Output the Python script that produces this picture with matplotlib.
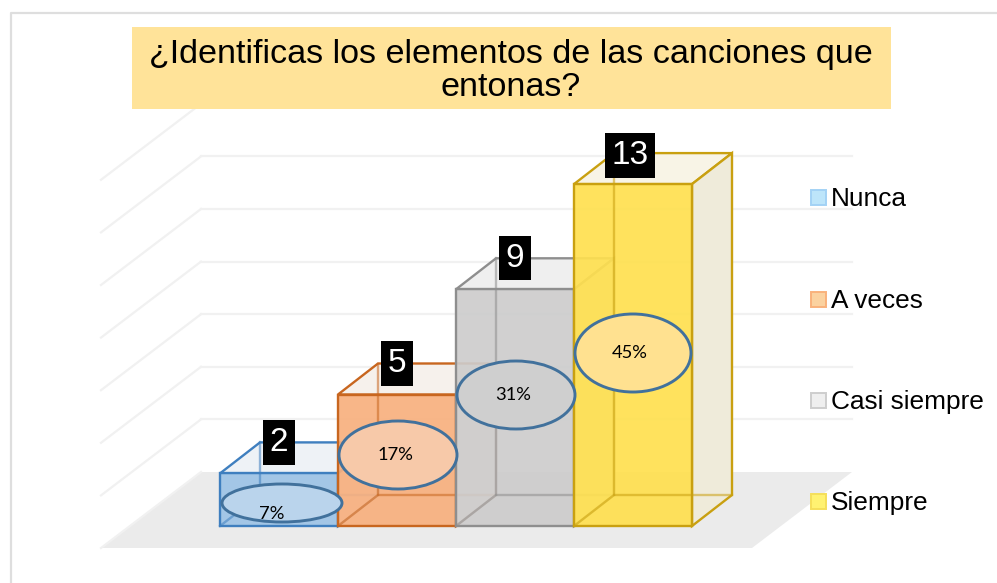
import matplotlib
matplotlib.use("Agg")
import matplotlib.pyplot as plt
from matplotlib.patches import Polygon, Ellipse, Rectangle

categories = ["Nunca", "A veces", "Casi siempre", "Siempre"]
counts = [2, 5, 9, 13]
percents = ["7%", "17%", "31%", "45%"]
title = "¿Identificas los elementos de las canciones que\nentonas?"

W, H = 997, 583
BAR_PX, UNIT_PX = 118.0, 26.3
X0_PX, Y0_PX = 220.0, 526.0

def X(px): return (px - X0_PX) / BAR_PX
def Y(py): return (Y0_PX - py) / UNIT_PX

fig = plt.figure(figsize=(W / 100, H / 100), dpi=100, facecolor="white")
ax = fig.add_axes([0, 0, 1, 1])
ax.set_xlim(X(0), X(W))
ax.set_ylim(Y(H), Y(0))
ax.axis("off")

SANS = "Liberation Sans"
DX, DY = 40 / BAR_PX, 31 / UNIT_PX

# outer chart frame
ax.plot([X(10.5), X(10.5), X(W)], [Y(H), Y(12.5), Y(12.5)], color="#DEDEDE", lw=1.6, zorder=1)

# floor and walls
FDX, FDY = 100 / BAR_PX, 76 / UNIT_PX
fl, fr, ff = X(101), X(752), Y(548)
ax.add_patch(Polygon([(fl, ff), (fr, ff), (fr + FDX, ff + FDY), (fl + FDX, ff + FDY)],
                     fc="#EBEBEB", ec="none", zorder=1))
grid_vals = [ff + FDY + 2 * k for k in range(0, 8)]
for g in grid_vals:
    ax.plot([fl, fl + FDX], [g - FDY, g], color="#F1F1F1", lw=1.6, zorder=1.2)
    if g != grid_vals[0]:
        ax.plot([fl + FDX, fr + FDX], [g, g], color="#F1F1F1", lw=1.6, zorder=1.2)

# bars
front = ["#9DC3E6", "#F8B07E", "#CDCCCC", "#FFE04F"]
top = ["#EEF2F6", "#F6F1EC", "#EFEFEF", "#F8F4E6"]
side = ["#E4EAF0", "#F3E5DA", "#E3E3E3", "#EFEBDA"]
edge = ["#3F7FBF", "#C8661F", "#8E8E8E", "#C9A010"]
ell_fill = ["#BAD4EC", "#F7C9A9", "#CFCFCF", "#FFE190"]
ell_w = [120, 118, 118, 116]
ell_h = [38, 68, 68, 78]
ell_cy = [503, 455, 395, 353]
ell_cx = [282, 398, 516, 633]
lw = 1.7

for i, v in enumerate(counts):
    l, r = float(i), i + 1.0
    z = 3 + i
    e = edge[i]
    # back faces
    ax.add_patch(Polygon([(l, v), (r, v), (r + DX, v + DY), (l + DX, v + DY)], fc=top[i], ec=e, lw=lw, zorder=z))
    ax.add_patch(Polygon([(r, 0), (r + DX, DY), (r + DX, v + DY), (r, v)], fc=side[i], ec=e, lw=lw, zorder=z))
    ax.add_patch(Polygon([(l, 0), (r, 0), (r, v), (l, v)], fc=front[i], ec="none", alpha=0.92, zorder=z + .1))
    # hidden edges seen through the glass
    ax.plot([l + DX, l + DX, r + DX], [v + DY, DY, DY], color=e, lw=lw, alpha=.55, zorder=z + .2)
    ax.plot([l, l + DX], [0, DY], color=e, lw=lw, alpha=.55, zorder=z + .2)
    ax.add_patch(Rectangle((l, 0), 1, v, fc="none", ec=e, lw=lw, zorder=z + .3))

for i, v in enumerate(counts):
    lx = X(-3) - X(0) if v >= 10 else 0
    ly = Y(2.5) - Y(0) if v >= 10 else 0
    ax.text(i + .5 + lx, v + DY + ly, str(v), color="white", family=SANS, fontsize=24, ha="center", va="center", zorder=20,
            bbox=dict(fc="black", ec="none", boxstyle="square,pad=0.2"))
    ax.add_patch(Ellipse((X(ell_cx[i]), Y(ell_cy[i])), ell_w[i] / BAR_PX, ell_h[i] / UNIT_PX,
                         fc=ell_fill[i], ec="#41719C", lw=2.1, zorder=21))
    dy = 11 if i == 0 else 0
    dx = -10 if i == 0 else -3
    ax.text(X(ell_cx[i] + dx), Y(ell_cy[i] + dy), percents[i], family="Lato", fontsize=13.2,
            ha="center", va="center", color="black", zorder=22)

# title
ax.add_patch(Rectangle((X(132), Y(109)), X(891) - X(132), Y(27) - Y(109), fc="#FFE399", ec="none", zorder=30))
ax.text(X(511), Y(71), title, family=SANS, fontsize=24.6, ha="center", va="center",
        linespacing=1.12, color="black", zorder=31)

# legend
leg_y = [197.5, 299.5, 400.5, 501.5]
leg_fill = ["#BDE5FA", "#FBD2A0", "#EFEFEF", "#FFF271"]
leg_edge = ["#A3D2F5", "#F9B27C", "#CECECE", "#F5DF5A"]
for name, y, f, e in zip(categories, leg_y, leg_fill, leg_edge):
    ax.add_patch(Rectangle((X(811), Y(y + 7.5)), 15 / BAR_PX, 15 / UNIT_PX, fc=f, ec=e, lw=1.4, zorder=30))
    ax.text(X(831), Y(y + 1.5), name, family=SANS, fontsize=18.9, ha="left", va="center", color="black", zorder=31)

fig.savefig("out.png", dpi=100)
